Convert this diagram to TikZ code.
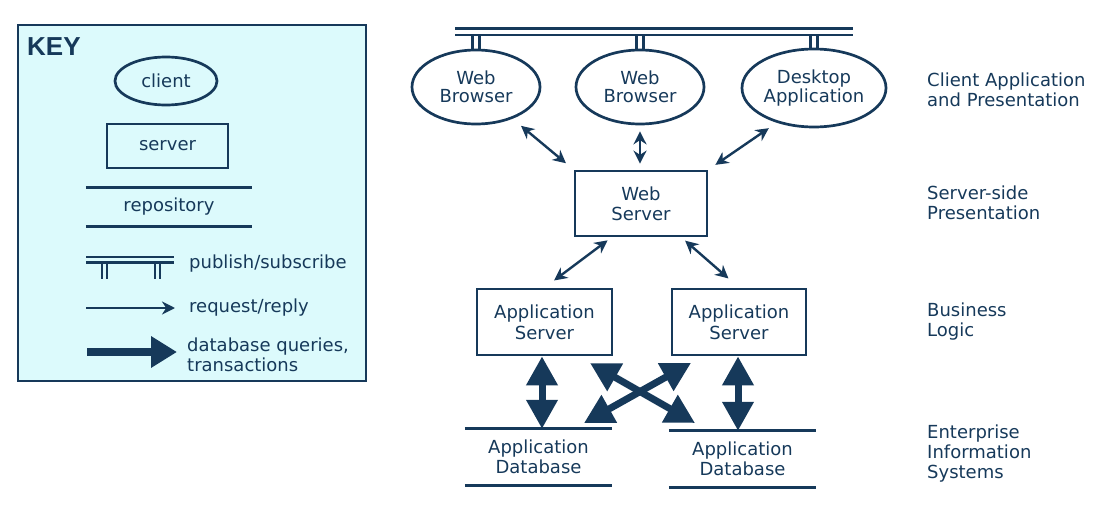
\documentclass[tikz,border=0pt]{standalone}
\usepackage{fontspec}
\setmainfont{DejaVu Sans}
\newfontfamily\keyfont{Liberation Sans}
\usetikzlibrary{arrows.meta,shapes.geometric}
\definecolor{navy}{HTML}{16395A}
\definecolor{keybg}{HTML}{DCFAFC}
\tikzset{
  clientnode/.style={ellipse, draw=navy, line width=2.7pt, inner sep=0pt, align=center},
  servernode/.style={rectangle, draw=navy, line width=2.7pt, inner sep=0pt, align=center},
  reponode/.style={rectangle, inner sep=0pt, align=center},
  repoline/.style={draw=navy, line width=2.7pt},
  busline/.style={draw=navy, line width=2.2pt},
  rr/.style={draw=navy, line width=2.4pt, {Stealth[length=13pt,width=13pt]}-{Stealth[length=13pt,width=13pt]}},
  rrone/.style={draw=navy, line width=2.4pt, -{Stealth[length=13pt,width=13pt]}},
  dbq/.style={draw=navy, line width=7pt, {Triangle[length=29pt,width=30pt]}-{Triangle[length=29pt,width=30pt]}},
  dbqone/.style={draw=navy, line width=8pt, -{Triangle[length=26pt,width=30pt]}},
  layerlabel/.style={anchor=west, align=left, inner sep=0pt},
}
\begin{document}
\begin{tikzpicture}[x=1pt,y=-1pt, font=\fontsize{18}{20}\selectfont, text=navy]
\useasboundingbox (0,0) rectangle (1119,522);

% ---------------- KEY ----------------
\node[draw=navy, fill=keybg, line width=2.7pt, minimum width=348pt, minimum height=356pt, inner sep=0pt] (keybox) at (192,203) {};
\node[anchor=west, inner sep=0pt, font=\keyfont\bfseries\fontsize{26}{28}\selectfont] (keytitle) at (27,47) {KEY};
\node[clientnode, minimum width=102pt, minimum height=48pt] (kclient) at (166,81) {client};
\node[servernode, minimum width=121pt, minimum height=44pt] (kserver) at (167.5,146) {server};
\node[reponode, minimum width=166pt, minimum height=38pt] (krepo) at (169,207) {repository};
\draw[repoline] (krepo.north west) -- (krepo.north east);
\draw[repoline] (krepo.south west) -- (krepo.south east);

\coordinate (kbusA) at (86,257);
\coordinate (kbusB) at (174,257);
\draw[busline] (kbusA) -- (kbusB);
\draw[busline] ([yshift=-5.5pt]kbusA) -- ([yshift=-5.5pt]kbusB);
\draw[busline] (102,262) -- (102,279);
\draw[busline] (107,262) -- (107,279);
\draw[busline] (155,262) -- (155,279);
\draw[busline] (160,262) -- (160,279);
\node[anchor=west, inner sep=0pt] (kpub) at (189,264) {publish/subscribe};

\coordinate (krrA) at (86,308);
\coordinate (krrB) at (175,308);
\draw[rrone] (krrA) -- (krrB);
\node[anchor=west, inner sep=0pt] (krr) at (189,308) {request/reply};

\coordinate (kdbA) at (87,352);
\coordinate (kdbB) at (177,352);
\draw[dbqone] (kdbA) -- (kdbB);
\node[anchor=west, align=left, inner sep=0pt] (kdb) at (187,355) {database queries,\\transactions};

% ---------------- MAIN ----------------
\node[clientnode, minimum width=128pt, minimum height=74pt, font=\fontsize{18}{18}\selectfont] (wb1) at (476,87) {Web\\Browser};
\node[clientnode, minimum width=128pt, minimum height=74pt, font=\fontsize{18}{18}\selectfont] (wb2) at (640,87) {Web\\Browser};
\node[clientnode, minimum width=144pt, minimum height=78pt, font=\fontsize{18}{19}\selectfont] (desk) at (814,88) {Desktop\\Application};

% publish/subscribe bus
\coordinate (busA) at (455,28.5);
\coordinate (busB) at (853,28.5);
\draw[busline] (busA) -- (busB);
\draw[busline] ([yshift=-6.5pt]busA) -- ([yshift=-6.5pt]busB);
\foreach \n in {wb1,wb2,desk}{
  \draw[busline] ([xshift=-3.5pt]\n.north) -- ([xshift=-3.5pt]\n.north |- 0,35);
  \draw[busline] ([xshift=3.5pt]\n.north) -- ([xshift=3.5pt]\n.north |- 0,35);
}

\node[servernode, minimum width=132pt, minimum height=65pt] (ws) at (641,203.5) {Web\\Server};
\node[servernode, minimum width=135pt, minimum height=66pt, font=\fontsize{18}{21}\selectfont] (asL) at (544.5,322) {Application\\Server};
\node[servernode, minimum width=134pt, minimum height=66pt, font=\fontsize{18}{21}\selectfont] (asR) at (739,322) {Application\\Server};

\node[reponode, minimum width=147pt, minimum height=56pt] (dbL) at (538.5,457) {Application\\Database};
\node[reponode, minimum width=147pt, minimum height=56pt] (dbR) at (742.5,459) {Application\\Database};
\draw[repoline] (dbL.north west) -- (dbL.north east);
\draw[repoline] (dbL.south west) -- (dbL.south east);
\draw[repoline] (dbR.north west) -- (dbR.north east);
\draw[repoline] (dbR.south west) -- (dbR.south east);

% request/reply arrows
\draw[rr, shorten <=11pt, shorten >=10pt] (wb1.-41) -- (ws.north west);
\draw[rr, shorten <=6pt, shorten >=6pt] (wb2.south) -- (wb2.south |- ws.north);
\draw[rr, shorten <=9.6pt, shorten >=8.5pt] (desk.-137.7) -- (ws.north east);
\draw[rr, shorten <=5pt, shorten >=12pt] (ws.-131) -- (asL.north);
\draw[rr, shorten <=5pt, shorten >=14pt] (ws.-40) -- (asR.north);

% database query arrows
\draw[dbq] (asL.south -| 542,0) -- (dbL.north -| 542,0);
\draw[dbq] (asR.south -| 738,0) -- (dbR.north -| 738,0);
\coordinate (xUL) at (590,363);
\coordinate (xLR) at (695,423);
\coordinate (xUR) at (691,363);
\coordinate (xLL) at (584,423);
\draw[dbq, line width=7pt] (xUL) -- (xLR);
\draw[dbq, line width=7pt] (xUR) -- (xLL);

% layer labels
\node[layerlabel] (l1) at (927,90) {Client Application\\and Presentation};
\node[layerlabel] (l2) at (927,203) {Server-side\\Presentation};
\node[layerlabel] (l3) at (927,322) {Business\\Logic};
\node[layerlabel] (l4) at (927,454) {Enterprise\\Information\\Systems};
\end{tikzpicture}
\end{document}
